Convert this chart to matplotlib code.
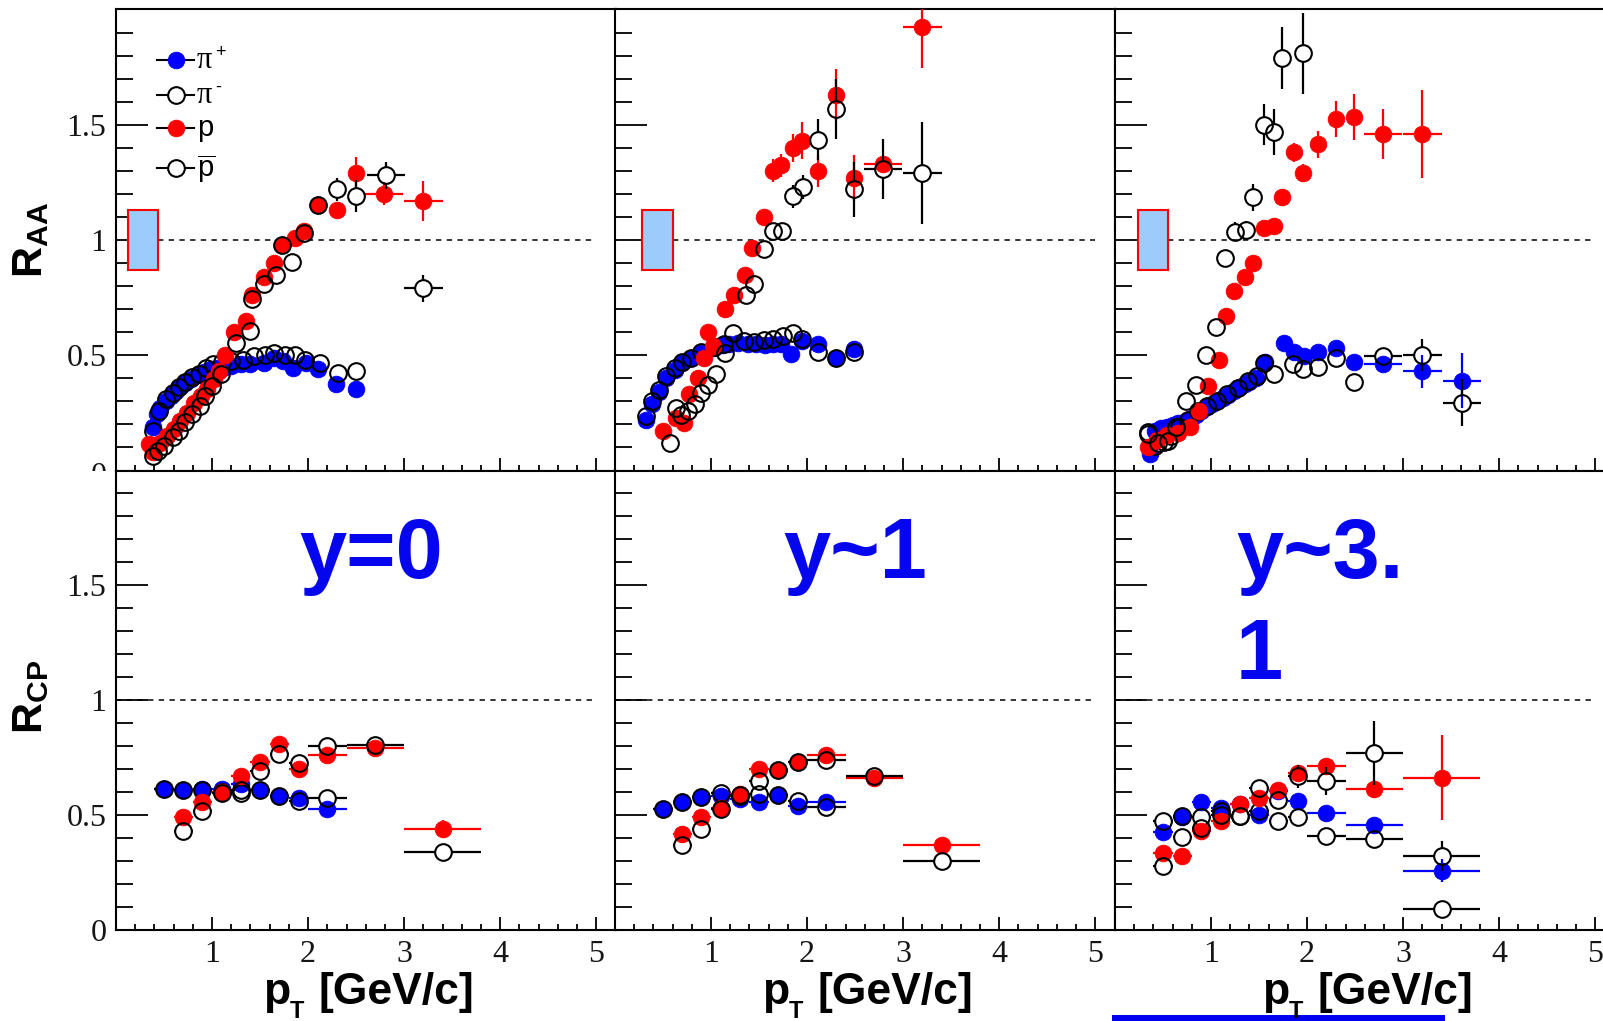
import numpy as np
import matplotlib
matplotlib.use("Agg")
import matplotlib.pyplot as plt
from matplotlib.collections import LineCollection
from matplotlib.lines import Line2D
from matplotlib.patches import Rectangle
from matplotlib.ticker import MultipleLocator
from matplotlib.transforms import Bbox

# ---------------------------------------------------------------- data
# R_AA, y = 0
raa_y0_pip_pt = [0.39, 0.43, 0.46, 0.52, 0.57, 0.62, 0.67, 0.72, 0.78, 0.85, 0.92, 0.99, 1.06,
                 1.13, 1.20, 1.30, 1.40, 1.54, 1.65, 1.74, 1.84, 1.98, 2.10, 2.29, 2.50]
raa_y0_pip = [0.187, 0.245, 0.27, 0.30, 0.324, 0.345, 0.364, 0.38, 0.396, 0.413, 0.427, 0.439, 0.445,
              0.45, 0.453, 0.46, 0.46, 0.467, 0.489, 0.475, 0.446, 0.467, 0.439, 0.374, 0.353]
raa_y0_pim_pt = [0.38, 0.45, 0.52, 0.59, 0.66, 0.72, 0.79, 0.86, 0.94, 1.01, 1.10, 1.20, 1.32,
                 1.44, 1.55, 1.65, 1.76, 1.86, 1.97, 2.12, 2.31, 2.50]
raa_y0_pim = [0.173, 0.26, 0.31, 0.338, 0.364, 0.385, 0.407, 0.42, 0.446, 0.46, 0.47, 0.475, 0.48,
              0.496, 0.50, 0.51, 0.50, 0.50, 0.48, 0.467, 0.424, 0.431]
raa_y0_p_pt = [0.34, 0.39, 0.46, 0.53, 0.60, 0.67, 0.74, 0.81, 0.88, 0.95, 1.02, 1.07, 1.13,
               1.23, 1.35, 1.42, 1.54, 1.65, 1.73, 1.86, 1.96, 2.10, 2.30, 2.50, 2.79, 3.20]
raa_y0_p = [0.115, 0.08, 0.12, 0.15, 0.18, 0.216, 0.25, 0.295, 0.324, 0.353, 0.396, 0.43, 0.50,
            0.60, 0.647, 0.76, 0.84, 0.90, 0.98, 1.01, 1.04, 1.15, 1.13, 1.29, 1.20, 1.17]
raa_y0_p_ye = [0, 0, 0, 0, 0, 0, 0, 0, 0, 0, 0, 0, 0, 0, 0.02, 0.02, 0.02, 0.02, 0.02, 0.02,
               0.02, 0.02, 0.03, 0.07, 0.05, 0.087]
raa_y0_p_xe = [0, 0, 0, 0, 0, 0, 0, 0, 0, 0, 0, 0, 0, 0, 0, 0, 0, 0, 0, 0, 0, 0, 0, 0, 0.2, 0.2]
raa_y0_pbar_pt = [0.38, 0.44, 0.50, 0.59, 0.66, 0.72, 0.79, 0.87, 0.93, 1.00, 1.09, 1.25, 1.39,
                  1.42, 1.54, 1.67, 1.73, 1.83, 1.96, 2.10, 2.30, 2.50, 2.81, 3.20]
raa_y0_pbar = [0.065, 0.085, 0.108, 0.144, 0.173, 0.209, 0.245, 0.28, 0.324, 0.367, 0.417, 0.554, 0.604,
               0.746, 0.81, 0.85, 0.977, 0.905, 1.03, 1.15, 1.22, 1.19, 1.28, 0.79]
raa_y0_pbar_ye = [0, 0, 0, 0, 0, 0, 0, 0, 0, 0, 0, 0, 0, 0.02, 0.02, 0.02, 0.02, 0.02, 0.02, 0.02,
                  0.05, 0.07, 0.06, 0.06]
raa_y0_pbar_xe = [0, 0, 0, 0, 0, 0, 0, 0, 0, 0, 0, 0, 0, 0, 0, 0, 0, 0, 0, 0, 0, 0, 0.2, 0.2]

# R_AA, y ~ 1
raa_y1_pip_pt = [0.32, 0.39, 0.46, 0.53, 0.62, 0.70, 0.79, 0.90, 1.03, 1.11, 1.19, 1.28, 1.38,
                 1.47, 1.56, 1.64, 1.73, 1.83, 1.95, 2.11, 2.30, 2.49]
raa_y1_pip = [0.22, 0.29, 0.34, 0.40, 0.436, 0.466, 0.487, 0.51, 0.53, 0.545, 0.55, 0.555, 0.55,
              0.55, 0.545, 0.55, 0.55, 0.505, 0.56, 0.55, 0.49, 0.525]
raa_y1_pim_pt = [0.32, 0.39, 0.46, 0.53, 0.62, 0.70, 0.79, 0.90, 1.03, 1.13, 1.23, 1.34, 1.45,
                 1.55, 1.65, 1.75, 1.85, 1.95, 2.11, 2.30, 2.49]
raa_y1_pim = [0.235, 0.30, 0.35, 0.41, 0.445, 0.47, 0.49, 0.515, 0.535, 0.55, 0.595, 0.56, 0.556,
              0.565, 0.57, 0.585, 0.595, 0.57, 0.515, 0.49, 0.515]
raa_y1_p_pt = [0.50, 0.64, 0.72, 0.77, 0.86, 0.93, 0.97, 1.02, 1.14, 1.24, 1.35, 1.43, 1.55,
               1.64, 1.73, 1.85, 1.95, 2.11, 2.30, 2.49, 2.79, 3.20]
raa_y1_p = [0.17, 0.227, 0.205, 0.33, 0.40, 0.487, 0.60, 0.54, 0.70, 0.76, 0.85, 0.965, 1.10,
            1.30, 1.325, 1.40, 1.43, 1.30, 1.63, 1.27, 1.33, 1.925]
raa_y1_p_ye = [0, 0, 0, 0, 0, 0, 0, 0, 0, 0, 0.02, 0.03, 0.03, 0.05, 0.05, 0.06, 0.08, 0.07,
               0.11, 0.10, 0.03, 0.18]
raa_y1_p_xe = [0, 0, 0, 0, 0, 0, 0, 0, 0, 0, 0, 0, 0, 0, 0, 0, 0, 0, 0, 0, 0.2, 0.2]
raa_y1_pbar_pt = [0.57, 0.63, 0.69, 0.76, 0.83, 0.90, 0.97, 1.05, 1.14, 1.36, 1.45, 1.55, 1.64,
                  1.74, 1.85, 1.96, 2.11, 2.30, 2.49, 2.79, 3.20]
raa_y1_pbar = [0.12, 0.27, 0.24, 0.26, 0.29, 0.335, 0.37, 0.42, 0.51, 0.76, 0.81, 0.96, 1.04,
               1.04, 1.19, 1.23, 1.435, 1.57, 1.22, 1.31, 1.29]
raa_y1_pbar_ye = [0, 0, 0, 0, 0, 0, 0, 0, 0, 0.02, 0.02, 0.02, 0.03, 0.03, 0.05, 0.05, 0.09,
                  0.13, 0.12, 0.13, 0.22]
raa_y1_pbar_xe = [0, 0, 0, 0, 0, 0, 0, 0, 0, 0, 0, 0, 0, 0, 0, 0, 0, 0, 0, 0.2, 0.2]

# R_AA, y ~ 3.1
raa_y3_pip_pt = [0.36, 0.42, 0.48, 0.54, 0.60, 0.66, 0.72, 0.78, 0.84, 0.90, 0.96, 1.01, 1.06,
                 1.12, 1.18, 1.24, 1.30, 1.35, 1.40, 1.47, 1.56, 1.76, 1.86, 1.97, 2.11, 2.30,
                 2.49, 2.79, 3.20, 3.61]
raa_y3_pip = [0.072, 0.17, 0.184, 0.19, 0.198, 0.205, 0.212, 0.225, 0.241, 0.26, 0.277, 0.29, 0.30,
              0.315, 0.328, 0.345, 0.361, 0.375, 0.386, 0.40, 0.47, 0.552, 0.516, 0.497, 0.516,
              0.53, 0.47, 0.46, 0.43, 0.39]
raa_y3_pip_ye = [0, 0, 0, 0, 0, 0, 0, 0, 0, 0, 0, 0, 0, 0, 0, 0, 0, 0, 0, 0, 0, 0, 0, 0, 0, 0, 0,
                 0.03, 0.07, 0.12]
raa_y3_pip_xe = [0, 0, 0, 0, 0, 0, 0, 0, 0, 0, 0, 0, 0, 0, 0, 0, 0, 0, 0, 0, 0, 0, 0, 0, 0, 0, 0,
                 0.2, 0.2, 0.2]
raa_y3_pim_pt = [0.34, 0.42, 0.51, 0.58, 0.67, 0.76, 0.86, 0.96, 1.06, 1.17, 1.28, 1.38, 1.48,
                 1.55, 1.66, 1.85, 1.96, 2.11, 2.30, 2.49, 2.79, 3.20, 3.61]
raa_y3_pim = [0.166, 0.108, 0.123, 0.15, 0.19, 0.22, 0.26, 0.28, 0.30, 0.33, 0.36, 0.39, 0.41,
              0.465, 0.42, 0.46, 0.44, 0.45, 0.49, 0.386, 0.497, 0.50, 0.295]
raa_y3_pim_ye = [0, 0, 0, 0, 0, 0, 0, 0, 0, 0, 0, 0, 0, 0, 0, 0, 0, 0, 0, 0, 0.02, 0.07, 0.10]
raa_y3_pim_xe = [0, 0, 0, 0, 0, 0, 0, 0, 0, 0, 0, 0, 0, 0, 0, 0, 0, 0, 0, 0, 0.2, 0.2, 0.2]
raa_y3_p_pt = [0.34, 0.44, 0.54, 0.66, 0.78, 0.87, 0.97, 1.08, 1.16, 1.24, 1.35, 1.44, 1.55,
               1.66, 1.74, 1.86, 1.96, 2.11, 2.30, 2.49, 2.79, 3.20]
raa_y3_p = [0.104, 0.133, 0.155, 0.162, 0.19, 0.256, 0.367, 0.48, 0.672, 0.78, 0.84, 0.90, 1.05,
            1.06, 1.185, 1.38, 1.29, 1.415, 1.525, 1.535, 1.46, 1.46]
raa_y3_p_ye = [0, 0, 0, 0, 0, 0, 0, 0, 0, 0, 0, 0, 0, 0, 0, 0.04, 0.04, 0.06, 0.08, 0.10, 0.11, 0.19]
raa_y3_p_xe = [0, 0, 0, 0, 0, 0, 0, 0, 0, 0, 0, 0, 0, 0, 0, 0, 0, 0, 0, 0, 0.2, 0.2]
raa_y3_pbar_pt = [0.34, 0.45, 0.55, 0.64, 0.74, 0.84, 0.95, 1.05, 1.15, 1.25, 1.36, 1.44, 1.55,
                  1.66, 1.74, 1.96]
raa_y3_pbar = [0.16, 0.12, 0.13, 0.19, 0.30, 0.37, 0.50, 0.624, 0.92, 1.036, 1.043, 1.185, 1.50,
               1.47, 1.79, 1.81]
raa_y3_pbar_ye = [0, 0, 0, 0, 0, 0, 0, 0, 0.02, 0.04, 0.04, 0.06, 0.09, 0.10, 0.135, 0.175]
raa_y3_pbar_xe = [0, 0, 0, 0, 0, 0, 0, 0, 0, 0, 0, 0, 0, 0, 0, 0]

# R_CP binning
rcp_pt_pi = [0.5, 0.7, 0.9, 1.1, 1.3, 1.5, 1.7, 1.9, 2.2]
rcp_xe_pi = [0.1, 0.1, 0.1, 0.1, 0.1, 0.1, 0.1, 0.1, 0.2]
rcp_pt_p = [0.7, 0.9, 1.1, 1.3, 1.5, 1.7, 1.9, 2.2, 2.7, 3.4]
rcp_xe_p = [0.1, 0.1, 0.1, 0.1, 0.1, 0.1, 0.1, 0.2, 0.3, 0.4]
rcp_pt_all = [0.5, 0.7, 0.9, 1.1, 1.3, 1.5, 1.7, 1.9, 2.2, 2.7, 3.4]
rcp_xe_all = [0.1, 0.1, 0.1, 0.1, 0.1, 0.1, 0.1, 0.1, 0.2, 0.3, 0.4]

# R_CP, y = 0
rcp_y0_pip = [0.613, 0.61, 0.613, 0.613, 0.635, 0.61, 0.584, 0.574, 0.526]
rcp_y0_pip_ye = [0.01, 0.01, 0.01, 0.01, 0.01, 0.01, 0.015, 0.015, 0.015]
rcp_y0_pim = [0.613, 0.61, 0.61, 0.60, 0.598, 0.61, 0.584, 0.562, 0.574]
rcp_y0_pim_ye = [0.01, 0.01, 0.01, 0.01, 0.01, 0.01, 0.015, 0.015, 0.015]
rcp_y0_p = [0.49, 0.555, 0.60, 0.67, 0.733, 0.81, 0.70, 0.762, 0.79, 0.44]
rcp_y0_p_ye = [0.02, 0.02, 0.02, 0.02, 0.02, 0.02, 0.02, 0.02, 0.02, 0.04]
rcp_y0_pbar = [0.432, 0.52, 0.598, 0.61, 0.693, 0.768, 0.729, 0.80, 0.806, 0.34]
rcp_y0_pbar_ye = [0.02, 0.02, 0.02, 0.02, 0.02, 0.02, 0.02, 0.02, 0.02, 0.03]

# R_CP, y ~ 1
rcp_y1_pip = [0.526, 0.558, 0.58, 0.584, 0.57, 0.559, 0.588, 0.54, 0.555]
rcp_y1_pip_ye = [0.01, 0.01, 0.01, 0.01, 0.01, 0.015, 0.015, 0.015, 0.02]
rcp_y1_pim = [0.526, 0.558, 0.58, 0.598, 0.584, 0.59, 0.588, 0.562, 0.536]
rcp_y1_pim_ye = [0.01, 0.01, 0.01, 0.01, 0.01, 0.015, 0.015, 0.015, 0.02]
rcp_y1_p = [0.42, 0.49, 0.53, 0.59, 0.70, 0.696, 0.733, 0.761, 0.66, 0.371]
rcp_y1_p_ye = [0.02, 0.02, 0.02, 0.02, 0.02, 0.02, 0.02, 0.02, 0.02, 0.02]
rcp_y1_pbar = [0.371, 0.439, 0.526, 0.587, 0.649, 0.696, 0.733, 0.739, 0.671, 0.301]
rcp_y1_pbar_ye = [0.02, 0.02, 0.02, 0.02, 0.02, 0.02, 0.02, 0.02, 0.02, 0.02]

# R_CP, y ~ 3.1
rcp_y3_pip = [0.427, 0.49, 0.555, 0.53, 0.548, 0.50, 0.606, 0.562, 0.511, 0.458, 0.258]
rcp_y3_pip_ye = [0.015, 0.015, 0.02, 0.02, 0.02, 0.02, 0.02, 0.02, 0.02, 0.03, 0.05]
rcp_y3_pim = [0.475, 0.497, 0.49, 0.52, 0.497, 0.52, 0.475, 0.49, 0.41, 0.396, 0.091]
rcp_y3_pim_ye = [0.015, 0.015, 0.02, 0.02, 0.02, 0.02, 0.02, 0.02, 0.02, 0.03, 0.02]
rcp_y3_p = [0.337, 0.323, 0.432, 0.475, 0.548, 0.574, 0.609, 0.685, 0.714, 0.613, 0.663]
rcp_y3_p_ye = [0.015, 0.015, 0.02, 0.02, 0.02, 0.02, 0.02, 0.03, 0.03, 0.04, 0.185]
rcp_y3_pbar = [0.28, 0.406, 0.446, 0.50, 0.497, 0.62, 0.565, 0.67, 0.649, 0.77, 0.323]
rcp_y3_pbar_ye = [0.015, 0.015, 0.02, 0.02, 0.02, 0.02, 0.03, 0.05, 0.06, 0.14, 0.065]

# normalisation uncertainty on R_AA
raa_norm_unc = 0.13

rapidity_labels = ["y=0", "y~1", "y~3.\n1"]
species_labels = ["\u03c0", "\u03c0", "p", "pbar"]
species_charge = ["+", "-", "", ""]

# ---------------------------------------------------------------- style
W, H = 1603, 1021
plt.rcParams.update({
    "font.family": ["Liberation Serif", "DejaVu Serif"],
    "mathtext.fontset": "custom",
    "mathtext.rm": "Liberation Sans",
    "mathtext.it": "Liberation Sans:italic",
    "mathtext.bf": "Liberation Sans:bold",
    "mathtext.sf": "Liberation Sans",
})
BLUE, RED, BLACK = "#0000ff", "#ff0000", "#000000"
TEXT_BLUE = "#0606ee"
MS = 12
GAP_PX = 8.0

fig = plt.figure(figsize=(W / 100, H / 100), dpi=100)

COL_LEFT = [116, 615, 1115]
COL_W = 499.5
ROW_TOP = [9.5, 470.5]
ROW_BOT = [470.5, 930.0]
BOX_X = [(0.13, 0.44), (0.28, 0.60), (0.24, 0.55)]


def make_axes(row, col):
    left = COL_LEFT[col]
    top, bot = ROW_TOP[row], ROW_BOT[row]
    ax = fig.add_axes([left / W, 1 - bot / H, COL_W / W, (bot - top) / H])
    ax.set_xlim(0, 5.2)
    ax.set_ylim(0, 2.0)
    for s in ax.spines.values():
        s.set_linewidth(1.5)
    ax.xaxis.set_major_locator(MultipleLocator(1))
    ax.xaxis.set_minor_locator(MultipleLocator(0.2))
    ax.set_xticks([1, 2, 3, 4, 5])
    ax.set_yticks([0, 0.5, 1, 1.5])
    ax.yaxis.set_minor_locator(MultipleLocator(0.1))
    ax.tick_params(axis="y", which="major", direction="in", length=23, width=1.3,
                   left=True, right=False, pad=7, labelsize=23, labelcolor="#151515")
    ax.tick_params(axis="y", which="minor", direction="in", length=12, width=1.3,
                   left=True, right=False)
    ax.tick_params(axis="x", which="major", direction="in", length=9.5, width=1.3,
                   bottom=True, top=False, pad=7, labelsize=23, labelcolor="#151515")
    ax.tick_params(axis="x", which="minor", direction="in", length=4.5, width=1.3,
                   bottom=True, top=False)
    if row == 0:
        ax.tick_params(axis="x", labelbottom=False)
    if col == 0:
        if row == 0:
            ax.set_yticklabels(["", "0.5", "1", "1.5"])
        else:
            ax.set_yticklabels(["0", "0.5", "1", "1.5"])
    else:
        ax.tick_params(axis="y", labelleft=False)
    return ax


def draw_series(ax, pt, val, xe, ye, color, filled, z):
    """Points with error bars that stop at the marker edge."""
    to_disp = ax.transData.transform
    to_data = ax.transData.inverted().transform
    segs = []
    for x, y, dx, dy in zip(pt, val, xe, ye):
        cx, cy = to_disp((x, y))
        if dx > 0:
            xl = to_disp((x - dx, y))[0]
            xr = to_disp((x + dx, y))[0]
            if cx - GAP_PX > xl:
                segs.append(to_data([(xl, cy), (cx - GAP_PX, cy)]))
            if xr > cx + GAP_PX:
                segs.append(to_data([(cx + GAP_PX, cy), (xr, cy)]))
        if dy > 0:
            yl = to_disp((x, y - dy))[1]
            yh = to_disp((x, y + dy))[1]
            if cy - GAP_PX > yl:
                segs.append(to_data([(cx, yl), (cx, cy - GAP_PX)]))
            if yh > cy + GAP_PX:
                segs.append(to_data([(cx, cy + GAP_PX), (cx, yh)]))
    if segs:
        ax.add_collection(LineCollection(segs, colors=color, linewidths=1.6, zorder=z))
    if filled:
        ax.plot(pt, val, ls="none", marker="o", ms=MS, mfc=color, mec=color, mew=0.6,
                zorder=z + 0.5)
    else:
        ax.plot(pt, val, ls="none", marker="o", ms=MS, mfc="none", mec=color, mew=1.5,
                zorder=z + 0.5)


raa_sets = [
    [(raa_y0_pip_pt, raa_y0_pip, [0] * len(raa_y0_pip), [0] * len(raa_y0_pip)),
     (raa_y0_pim_pt, raa_y0_pim, [0] * len(raa_y0_pim), [0] * len(raa_y0_pim)),
     (raa_y0_p_pt, raa_y0_p, raa_y0_p_xe, raa_y0_p_ye),
     (raa_y0_pbar_pt, raa_y0_pbar, raa_y0_pbar_xe, raa_y0_pbar_ye)],
    [(raa_y1_pip_pt, raa_y1_pip, [0] * len(raa_y1_pip), [0] * len(raa_y1_pip)),
     (raa_y1_pim_pt, raa_y1_pim, [0] * len(raa_y1_pim), [0] * len(raa_y1_pim)),
     (raa_y1_p_pt, raa_y1_p, raa_y1_p_xe, raa_y1_p_ye),
     (raa_y1_pbar_pt, raa_y1_pbar, raa_y1_pbar_xe, raa_y1_pbar_ye)],
    [(raa_y3_pip_pt, raa_y3_pip, raa_y3_pip_xe, raa_y3_pip_ye),
     (raa_y3_pim_pt, raa_y3_pim, raa_y3_pim_xe, raa_y3_pim_ye),
     (raa_y3_p_pt, raa_y3_p, raa_y3_p_xe, raa_y3_p_ye),
     (raa_y3_pbar_pt, raa_y3_pbar, raa_y3_pbar_xe, raa_y3_pbar_ye)],
]
rcp_sets = [
    [(rcp_pt_pi, rcp_y0_pip, rcp_xe_pi, rcp_y0_pip_ye),
     (rcp_pt_pi, rcp_y0_pim, rcp_xe_pi, rcp_y0_pim_ye),
     (rcp_pt_p, rcp_y0_p, rcp_xe_p, rcp_y0_p_ye),
     (rcp_pt_p, rcp_y0_pbar, rcp_xe_p, rcp_y0_pbar_ye)],
    [(rcp_pt_pi, rcp_y1_pip, rcp_xe_pi, rcp_y1_pip_ye),
     (rcp_pt_pi, rcp_y1_pim, rcp_xe_pi, rcp_y1_pim_ye),
     (rcp_pt_p, rcp_y1_p, rcp_xe_p, rcp_y1_p_ye),
     (rcp_pt_p, rcp_y1_pbar, rcp_xe_p, rcp_y1_pbar_ye)],
    [(rcp_pt_all, rcp_y3_pip, rcp_xe_all, rcp_y3_pip_ye),
     (rcp_pt_all, rcp_y3_pim, rcp_xe_all, rcp_y3_pim_ye),
     (rcp_pt_all, rcp_y3_p, rcp_xe_all, rcp_y3_p_ye),
     (rcp_pt_all, rcp_y3_pbar, rcp_xe_all, rcp_y3_pbar_ye)],
]
styles = [(BLUE, True), (BLACK, False), (RED, True), (BLACK, False)]

for row in range(2):
    for col in range(3):
        ax = make_axes(row, col)
        if row == 0:
            x0, x1 = BOX_X[col]
            ax.add_patch(Rectangle((x0, 1 - raa_norm_unc), x1 - x0, 2 * raa_norm_unc,
                                   facecolor="#9dcbfb", edgecolor=RED, lw=1.5, zorder=3))
            ax.plot([x1, 5.0], [1, 1], color="black", lw=1.1, ls=(0, (3.5, 3.5)), zorder=2)
            sets = raa_sets[col]
        else:
            ax.plot([0.0, 5.0], [1, 1], color="black", lw=1.1, ls=(0, (3.5, 3.5)), zorder=2)
            sets = rcp_sets[col]
        for k, ((pt, val, xe, ye), (c, f)) in enumerate(zip(sets, styles)):
            draw_series(ax, pt, val, xe, ye, c, f, 4 + k)


def fx(px):
    return px / W


def fy(py):
    return 1 - py / H


# partially hidden "0" at the foot of the upper R_AA axis
zero = fig.text(fx(107), fy(476), "0", ha="right", va="center", fontsize=23,
                color="#151515", family="Liberation Serif")
zero.set_clip_box(Bbox.from_extents(0, H - 470.5, W, H))
zero.set_clip_on(True)

# axis titles
fig.text(fx(31), fy(240), r"$\mathbf{R}_{\mathbf{AA}}$", rotation=90, ha="center",
         va="center", fontsize=31)
fig.text(fx(31), fy(697), r"$\mathbf{R}_{\mathbf{CP}}$", rotation=90, ha="center",
         va="center", fontsize=31)
for col in range(3):
    cx = COL_LEFT[col] + COL_W / 2
    fig.text(fx(cx - 103), fy(1004), "p", ha="left", va="baseline", fontsize=32,
             fontweight="bold", family="Liberation Sans")
    fig.text(fx(cx - 76), fy(1018), "T", ha="left", va="baseline", fontsize=17,
             fontweight="bold", family="Liberation Sans")
    fig.text(fx(cx - 47), fy(1004), "[GeV/c]", ha="left", va="baseline", fontsize=32,
             fontweight="bold", family="Liberation Sans")

# legend (upper-left panel)
leg_rows = [60, 95, 128, 168]
for k, ((c, filled), ly) in enumerate(zip(styles, leg_rows)):
    fig.add_artist(Line2D([fx(157), fx(194)], [fy(ly), fy(ly)], color="black", lw=1.5,
                          transform=fig.transFigure))
    fig.add_artist(Line2D([fx(175.5)], [fy(ly)], ls="none", marker="o", ms=MS,
                          mfc=c if filled else "white", mec=c, mew=0.6 if filled else 1.5,
                          transform=fig.transFigure))
for k in range(2):
    fig.text(fx(197), fy(leg_rows[k] + 8), species_labels[k], fontsize=22,
             family="Liberation Serif", va="baseline", ha="left")
    fig.text(fx(215), fy(leg_rows[k] - 3), species_charge[k], fontsize=13,
             family="Liberation Sans", va="baseline", ha="left")
fig.text(fx(197), fy(leg_rows[2] + 8), species_labels[2], fontsize=21,
         family="Liberation Sans", va="baseline", ha="left")
fig.text(fx(197), fy(leg_rows[3] + 9), r"$\overline{\mathrm{p}}$", fontsize=21,
         va="baseline", ha="left")

# rapidity tags in the lower panels
fig.text(fx(299), fy(578), rapidity_labels[0], fontsize=61, fontweight="bold",
         family="Liberation Sans", color=TEXT_BLUE, ha="left", va="baseline")
fig.text(fx(783), fy(578), rapidity_labels[1], fontsize=61, fontweight="bold",
         family="Liberation Sans", color=TEXT_BLUE, ha="left", va="baseline")
first, second = rapidity_labels[2].split("\n")
fig.text(fx(1236), fy(578), first, fontsize=61, fontweight="bold",
         family="Liberation Sans", color=TEXT_BLUE, ha="left", va="baseline")
fig.text(fx(1236), fy(679), second, fontsize=61, fontweight="bold",
         family="Liberation Sans", color=TEXT_BLUE, ha="left", va="baseline")

# blue underline strip along the bottom edge
fig.add_artist(Rectangle((fx(1112), 0), (1445 - 1112) / W, 6.5 / H, transform=fig.transFigure,
                         facecolor="#0000f0", edgecolor="none"))

fig.savefig("out.png", dpi=100)
